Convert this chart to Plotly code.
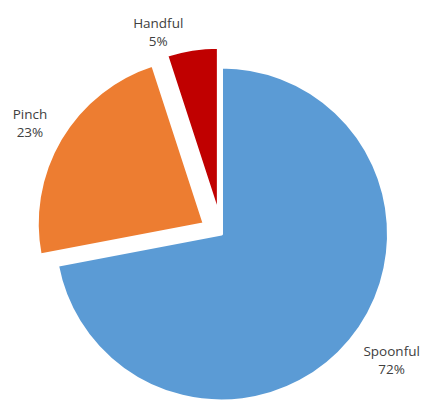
import plotly.graph_objects as go

categories = ["Spoonful", "Pinch", "Handful"]
values = [72, 23, 5]
colors = ["#5B9BD5", "#ED7D31", "#C00000"]
pulls = [0, 0.12, 0.12]
label_templates = [
    "\u00a0<br>%{label}<br>%{percent:.0%}",
    "%{label}<br>%{percent:.0%}<br>\u00a0",
    "%{label}<br>%{percent:.0%}",
]

W, H = 422, 430
cx, cy, r, p = 221.5, 234, 167, 0.12
half = r * (1 + p)

fig = go.Figure(go.Pie(
    labels=categories,
    values=values,
    marker=dict(colors=colors, line=dict(color="white", width=3)),
    pull=pulls,
    sort=False,
    direction="clockwise",
    rotation=0,
    textinfo="label+percent",
    textposition="outside",
    texttemplate=label_templates,
    textfont=dict(family="Open Sans", size=13.5, color="#404040"),
    automargin=False,
    showlegend=False,
    hoverinfo="none",
    domain=dict(x=[(cx - half) / W, (cx + half) / W],
                y=[max(0, (H - (cy + half)) / H), (H - (cy - half)) / H]),
))
fig.update_layout(
    width=W, height=H,
    margin=dict(l=0, r=0, t=0, b=0),
    paper_bgcolor="white",
)
fig.write_html(
    "out.html",
    config={"displayModeBar": False},
    post_script="document.body.style.margin='0';"
                "document.documentElement.style.overflow='hidden';"
                "document.body.style.overflow='hidden';",
)
